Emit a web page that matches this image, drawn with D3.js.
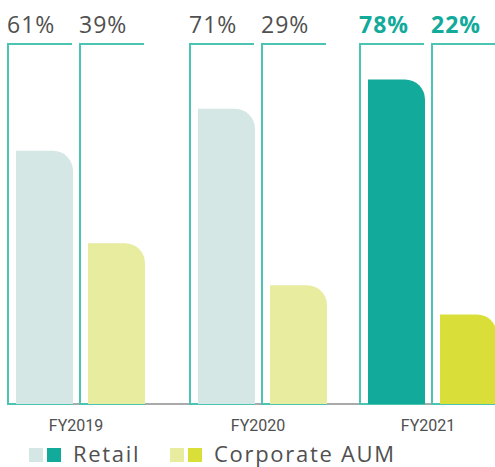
<!DOCTYPE html>
<html>
<head>
<meta charset="utf-8">
<script src="https://cdn.jsdelivr.net/npm/d3@7"></script>
<style>
  body { margin: 0; background: #fff; }
  svg { display: block; }
</style>
</head>
<body>
<div id="chart"></div>
<script>
// chart values
var years = ["FY2019", "FY2020", "FY2021"];
var series = ["Retail", "Corporate AUM"];
var retail = [61, 71, 78];
var corporate = [39, 29, 22];
var highlight = "FY2021";

var width = 495, height = 467;
var base = 404;

var lightCol = ["#d4e7e4", "#e8ec9f"];
var darkCol = ["#12aa9b", "#d9df38"];
var frameCol = "#4cc4b4";

var svg = d3.select("#chart").append("svg")
  .attr("width", width)
  .attr("height", height);

// group and bar scales (groups are not evenly spaced in the original)
var x0 = d3.scaleOrdinal()
  .domain(years)
  .range([8, 190, 360]);

var x1 = d3.scaleBand()
  .domain(series)
  .range([0, 136])
  .paddingInner(8 / 72);

var y = d3.scaleLinear()
  .domain([0, 100])
  .range([base + 3, base + 3 - 420]);

var frameTop = 44;

// gray baseline
svg.append("line")
  .attr("x1", 8).attr("x2", width)
  .attr("y1", base).attr("y2", base)
  .attr("stroke", "#aaa")
  .attr("stroke-width", 2);

var rows = [];
years.forEach(function(yr, i) {
  rows.push({ year: yr, s: 0, v: retail[i] });
  rows.push({ year: yr, s: 1, v: corporate[i] });
});

function barPath(x, w, top, r) {
  return "M" + x + "," + base +
    "V" + top +
    "H" + (x + w - r) +
    "A" + r + "," + r + " 0 0 1 " + (x + w) + "," + (top + r) +
    "V" + base + "Z";
}

var g = svg.selectAll(".bar")
  .data(rows)
  .enter().append("g")
  .attr("class", "bar")
  .attr("transform", function(d) { return "translate(" + (x0(d.year) + x1(series[d.s])) + ",0)"; });

// bracket frame: left, top, bottom
g.append("path")
  .attr("d", function() {
    var w = x1.bandwidth();
    return "M" + w + "," + frameTop + "H0V" + base + "H" + (w + 1);
  })
  .attr("fill", "none")
  .attr("stroke", frameCol)
  .attr("stroke-width", 2);

g.append("path")
  .attr("d", function(d) { return barPath(8, x1.bandwidth() - 7, y(d.v), 20); })
  .attr("fill", function(d) { return d.year == highlight ? darkCol[d.s] : lightCol[d.s]; });

g.append("text")
  .attr("x", -1)
  .attr("y", 33)
  .attr("font-family", "Open Sans, sans-serif")
  .attr("font-size", 23)
  .attr("letter-spacing", 1)
  .attr("font-weight", function(d) { return d.year == highlight ? 700 : 400; })
  .attr("fill", function(d) { return d.year == highlight ? "#12aa9b" : "#505050"; })
  .text(function(d) { return d.v + "%"; });

// category labels
svg.selectAll(".cat")
  .data(years)
  .enter().append("text")
  .attr("class", "cat")
  .attr("x", function(d) { return x0(d) + 68; })
  .attr("y", 431)
  .attr("text-anchor", "middle")
  .attr("font-family", "Roboto, sans-serif")
  .attr("font-size", 16)
  .attr("font-weight", 400)
  .attr("fill", "#505050")
  .text(function(d) { return d; });

// legend
var legX = [29, 170];
var leg = svg.selectAll(".leg")
  .data(series)
  .enter().append("g")
  .attr("class", "leg")
  .attr("transform", function(d, i) { return "translate(" + legX[i] + ",448)"; });

leg.append("rect")
  .attr("width", 14).attr("height", 14)
  .attr("fill", function(d, i) { return lightCol[i]; });
leg.append("rect")
  .attr("x", 18)
  .attr("width", 14).attr("height", 14)
  .attr("fill", function(d, i) { return darkCol[i]; });
leg.append("text")
  .attr("x", 44)
  .attr("y", 14)
  .attr("font-family", "Open Sans, sans-serif")
  .attr("font-size", 22)
  .attr("letter-spacing", 1.7)
  .attr("fill", "#505050")
  .text(function(d) { return d; });
</script>
</body>
</html>
